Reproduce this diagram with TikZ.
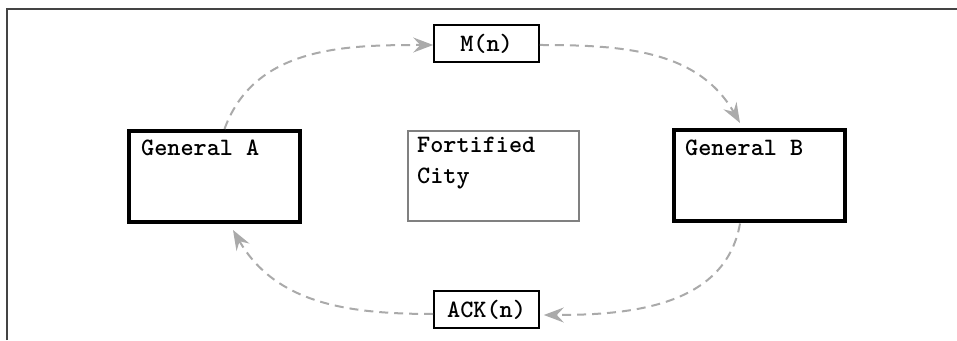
\documentclass[tikz,border=0pt]{standalone}
\usetikzlibrary{arrows.meta}
\definecolor{framegray}{HTML}{444444}
\definecolor{citygray}{HTML}{808080}
\definecolor{flowgray}{HTML}{AAAAAA}
\begin{document}
\begin{tikzpicture}[x=1pt,y=1pt,
  general/.style={draw=black, line width=4pt, minimum width=171pt, minimum height=91pt, inner sep=0pt},
  citybox/.style={draw=citygray, line width=2.4pt, minimum width=170.5pt, minimum height=89.5pt, inner sep=0pt},
  msgbox/.style={draw=black, line width=1.6pt, minimum width=105pt, minimum height=37pt, inner sep=0pt,
    font=\fontsize{25}{30}\selectfont\ttfamily\bfseries},
  lbl/.style={anchor=base west, inner sep=0pt, font=\fontsize{25}{30}\selectfont\ttfamily\bfseries},
  msgflow/.style={draw=flowgray, line width=2pt, dash pattern=on 9pt off 6pt,
    -{Stealth[length=20pt,width=15pt,inset=7pt]}}
]
\useasboundingbox (0,0) rectangle (957,340);
% partial frame
\draw[framegray, line width=2pt] (6.5,0) -- (6.5,330.5) -- (957,330.5);

% boxes
\node[general] (genA) at (214.5,163.5) {};
\node[general] (genB) at (759,164) {};
\node[citybox] (city) at (493.5,164) {};
\node[msgbox] (msg) at (486.5,296.5) {M(n)};
\node[msgbox] (ack) at (486.5,30.5) {ACK(n)};

% box captions
\node[lbl] (genAtext) at (141,184) {General A};
\node[lbl] (genBtext) at (685,184) {General B};
\node[lbl] (citytextA) at (417,187) {Fortified};
\node[lbl] (citytextB) at (417,156) {City};

% messages
\draw[msgflow] ([xshift=10pt]genA.north) to[out=70,in=180] ([yshift=-1.5pt]msg.west);
\draw[msgflow] ([yshift=-1.5pt]msg.east) to[out=0,in=120] ([xshift=-19pt,yshift=5.5pt]genB.north);
\draw[msgflow] ([xshift=-19pt]genB.south) to[out=-100,in=0] ([xshift=4pt,yshift=-5.5pt]ack.east);
\draw[msgflow] ([yshift=-4.5pt]ack.west) to[out=180,in=-60] ([xshift=18.5pt,yshift=-6pt]genA.south);
\end{tikzpicture}
\end{document}
